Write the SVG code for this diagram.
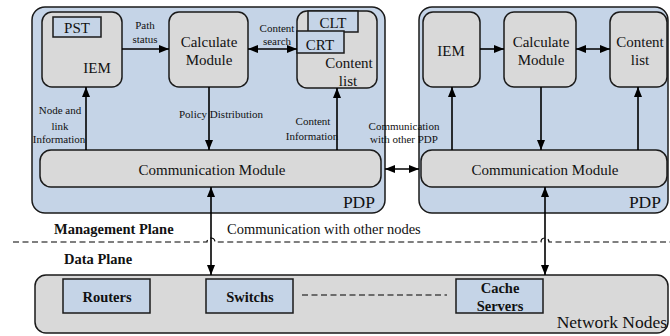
<svg xmlns="http://www.w3.org/2000/svg" width="670" height="336" viewBox="0 0 670 336" font-family="'Liberation Serif', 'DejaVu Serif', serif">
<defs>
<style>
text{font-family:'Liberation Serif','DejaVu Serif',serif;fill:#111;}
.b{fill:#c5d4e7;stroke:#1a1a1a;stroke-width:1.5;}
.g{fill:#d9d9d9;stroke:#1a1a1a;stroke-width:1.5;}
.t15{font-size:15px;text-anchor:middle;}
.t11{font-size:11px;text-anchor:middle;}
.bold{font-size:14.5px;font-weight:bold;}
.big{font-size:17.5px;}
.ln{fill:none;stroke:#000;stroke-width:1.6;}
.dash{fill:none;stroke:#000;stroke-width:1.2;stroke-dasharray:6,3.5;}
</style>
<marker id="ah" viewBox="0 0 10 8" refX="10" refY="4" markerWidth="10" markerHeight="8" markerUnits="userSpaceOnUse" orient="auto-start-reverse">
<path d="M0,0 L10,4 L0,8 z" fill="#000"/>
</marker>
</defs>
<rect width="670" height="336" fill="#fff"/>

<g id="pdp-left">
<rect class="b" x="32" y="7" width="353" height="206" rx="13"/>
<text class="big" x="375" y="208" text-anchor="end">PDP</text>
</g>
<g id="pdp-right">
<rect class="b" x="419" y="7" width="249" height="206" rx="13"/>
<text class="big" x="661" y="208" text-anchor="end">PDP</text>
</g>

<g id="iem-left">
<rect class="g" x="42" y="12" width="80" height="75" rx="10"/>
<rect class="b" x="53" y="17" width="48" height="20"/>
<text class="t15" x="77" y="33">PST</text>
<text class="t15" x="97" y="73">IEM</text>
</g>
<g id="calc-left">
<rect class="g" x="169" y="12" width="79" height="75" rx="10"/>
<text class="t15" x="209" y="47">Calculate</text>
<text class="t15" x="209" y="65">Module</text>
</g>
<g id="content-left">
<rect class="g" x="297" y="11" width="80" height="77" rx="10"/>
<rect class="b" x="308" y="11" width="50" height="21"/>
<text class="t15" x="333" y="28">CLT</text>
<rect class="b" x="297" y="31" width="47" height="22"/>
<text class="t15" x="320" y="50">CRT</text>
<text class="t15" x="349" y="68">Content</text>
<text class="t15" x="348" y="86">list</text>
</g>
<g id="comm-left">
<rect class="g" x="40" y="150" width="341" height="37" rx="11"/>
<text class="t15" x="212" y="175">Communication Module</text>
</g>

<g id="iem-right">
<rect class="g" x="423" y="12" width="57" height="75" rx="10"/>
<text class="t15" x="451" y="56">IEM</text>
</g>
<g id="calc-right">
<rect class="g" x="504" y="12" width="72" height="75" rx="10"/>
<text class="t15" x="541" y="47">Calculate</text>
<text class="t15" x="541" y="65">Module</text>
</g>
<g id="content-right">
<rect class="g" x="610" y="12" width="57" height="75" rx="10"/>
<text class="t15" x="640" y="47">Content</text>
<text class="t15" x="640" y="65">list</text>
</g>
<g id="comm-right">
<rect class="g" x="421" y="150" width="246" height="37" rx="11"/>
<text class="t15" x="545" y="175">Communication Module</text>
</g>

<g id="network-nodes">
<rect class="g" x="35" y="275" width="633" height="58" rx="11"/>
<text class="big" x="667" y="328" text-anchor="end">Network Nodes</text>
</g>
<g id="routers">
<rect class="b" x="63" y="279" width="87" height="34"/>
<text class="bold" x="107" y="302" text-anchor="middle">Routers</text>
</g>
<g id="switchs">
<rect class="b" x="206" y="279" width="87" height="34"/>
<text class="bold" x="250" y="302" text-anchor="middle">Switchs</text>
</g>
<g id="cache-servers">
<rect class="b" x="456" y="279" width="87" height="34"/>
<text class="bold" x="500" y="293" text-anchor="middle">Cache</text>
<text class="bold" x="500" y="311" text-anchor="middle">Servers</text>
</g>

<g id="planes">
<path class="dash" d="M13,242 H207 A4,4 0 0 1 215,242 H541 A4,4 0 0 1 549,242 H670"/>
<text class="bold" x="54" y="234">Management Plane</text>
<text class="bold" x="64" y="264">Data Plane</text>
</g>

<g id="connectors">
<line class="ln" x1="122" y1="49" x2="169" y2="49" marker-end="url(#ah)"/>
<line class="ln" x1="248" y1="49" x2="297" y2="49" marker-start="url(#ah)" marker-end="url(#ah)"/>
<line class="ln" x1="86" y1="150" x2="86" y2="87" marker-end="url(#ah)"/>
<line class="ln" x1="209" y1="87" x2="209" y2="150" marker-end="url(#ah)"/>
<line class="ln" x1="337" y1="150" x2="337" y2="88" marker-end="url(#ah)"/>
<line class="ln" x1="480" y1="49" x2="504" y2="49" marker-end="url(#ah)"/>
<line class="ln" x1="576" y1="49" x2="610" y2="49" marker-start="url(#ah)" marker-end="url(#ah)"/>
<line class="ln" x1="452" y1="150" x2="452" y2="87" marker-end="url(#ah)"/>
<line class="ln" x1="541" y1="87" x2="541" y2="150" marker-end="url(#ah)"/>
<line class="ln" x1="638" y1="150" x2="638" y2="87" marker-end="url(#ah)"/>
<line class="ln" x1="385" y1="169" x2="419" y2="169" marker-start="url(#ah)" marker-end="url(#ah)"/>
<line class="ln" x1="211" y1="187" x2="211" y2="275" marker-start="url(#ah)" marker-end="url(#ah)"/>
<line class="ln" x1="545" y1="187" x2="545" y2="275" marker-start="url(#ah)" marker-end="url(#ah)"/>
<line class="dash" x1="302" y1="295" x2="447" y2="295"/>
<text class="t11" x="145" y="29">Path</text>
<text class="t11" x="145" y="43">status</text>
<text class="t11" x="277" y="32">Content</text>
<text class="t11" x="277" y="45">search</text>
<text class="t11" x="60" y="114">Node and</text>
<text class="t11" x="60" y="130">link</text>
<text class="t11" x="59" y="143">Information</text>
<text class="t11" x="221" y="118">Policy Distribution</text>
<text class="t11" x="313" y="125">Content</text>
<text class="t11" x="312" y="140">Information</text>
<text class="t11" x="404" y="130">Communication</text>
<text class="t11" x="404" y="143">with other PDP</text>
<text x="227" y="234" style="font-size:14.5px">Communication with other nodes</text>
</g>
</svg>
